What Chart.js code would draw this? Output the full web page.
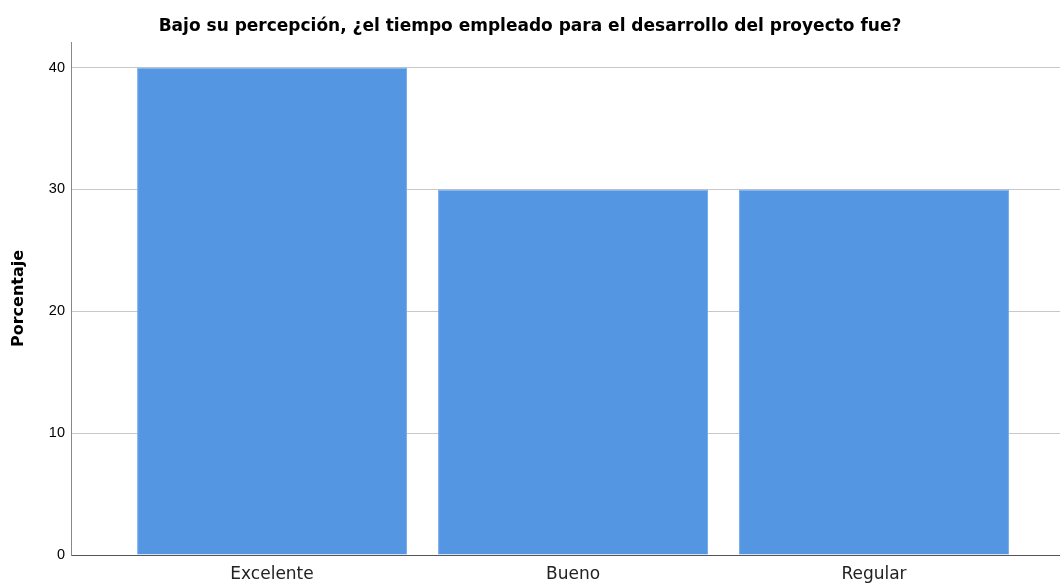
<!DOCTYPE html>
<html>
<head>
<meta charset="utf-8">
<script src="https://cdn.jsdelivr.net/npm/chart.js@4/dist/chart.umd.min.js"></script>
<style>
  html, body { margin: 0; padding: 0; background: #fff; }
  #wrap { width: 1060px; height: 585px; }
</style>
</head>
<body>
<div id="wrap"><canvas id="grafico"></canvas></div>
<script>
// datos
const categorias = ['Excelente', 'Bueno', 'Regular'];
const porcentajes = [40, 30, 30];
const marcasY = [0, 10, 20, 30, 40];

const puntos = porcentajes.map((v, i) => ({ x: i, y: v }));

new Chart(document.getElementById('grafico'), {
    type: 'bar',
    data: {
        datasets: [{
            data: puntos,
            backgroundColor: '#5596e3',
            borderColor: '#79adec',
            borderWidth: 1,
            categoryPercentage: 1,
            barPercentage: 0.897,
        }]
    },
    options: {
        responsive: true,
        maintainAspectRatio: false,
        animation: false,
        layout: { padding: 0 },
        plugins: {
            legend: { display: false },
            tooltip: { enabled: false },
            title: {
                display: true,
                text: 'Bajo su percepción, ¿el tiempo empleado para el desarrollo del proyecto fue?',
                color: '#000',
                font: { family: 'DejaVu Sans', size: 17, weight: 'bold', lineHeight: 1.2 },
                padding: { top: 16, bottom: 5.6 }
            }
        },
        scales: {
            x: {
                type: 'linear',
                min: -0.668,
                max: 2.618,
                offset: false,
                grid: { display: false, drawTicks: false, offset: false },
                border: { color: '#555', width: 1 },
                afterBuildTicks: s => { s.ticks = categorias.map((c, i) => ({ value: i })); },
                afterFit: s => { s.height = 30; },
                ticks: {
                    padding: 9,
                    color: '#222',
                    font: { family: 'DejaVu Sans', size: 17 },
                    callback: v => categorias[v]
                }
            },
            y: {
                min: 0,
                max: 42.1,
                grid: { color: '#c8c8c8', lineWidth: 1, drawTicks: false },
                border: { color: '#888', width: 1 },
                afterBuildTicks: s => { s.ticks = marcasY.map(v => ({ value: v })); },
                afterFit: s => { s.width = 71; },
                title: {
                    display: true,
                    text: 'Porcentaje',
                    color: '#000',
                    font: { family: 'DejaVu Sans', size: 16, weight: 'bold' },
                    padding: { top: 9, bottom: 0 }
                },
                ticks: {
                    padding: 6,
                    color: '#000',
                    font: { family: 'Liberation Sans, Arial', size: 14.5 }
                }
            }
        }
    }
});
</script>
</body>
</html>
